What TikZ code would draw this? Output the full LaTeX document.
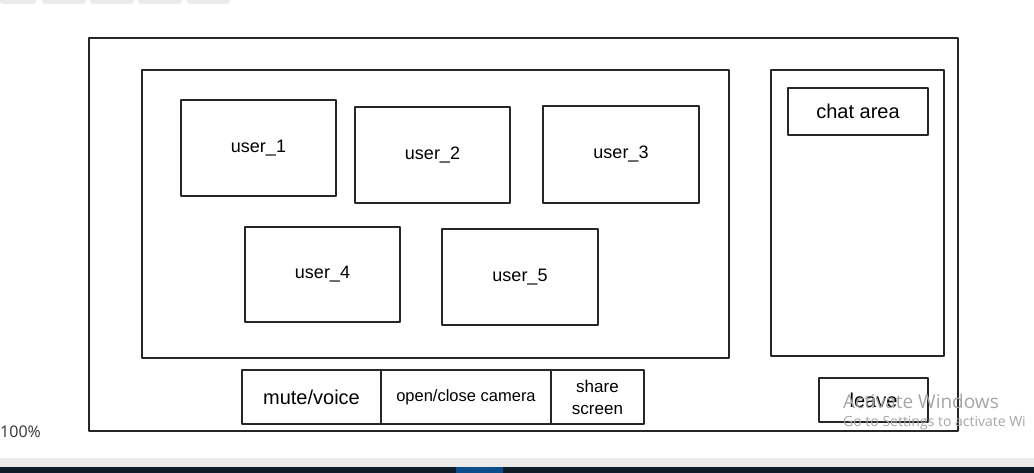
\documentclass[tikz,border=0pt]{standalone}
\usepackage{fontspec}
\setmainfont{Liberation Sans}
\newfontfamily\uifont{Open Sans}
\definecolor{darkbar}{HTML}{0F1C2A}
\definecolor{bluebar}{HTML}{0A4D8A}
\begin{document}
\begin{tikzpicture}[x=1pt,y=-1pt,
  sketch/.style={draw=black!85, line width=1.1pt, line join=round},
  boxnode/.style={sketch, rectangle, inner sep=0pt, font=\fontsize{18}{20}\selectfont},
  tab/.style={fill=black!8, draw=none, rounded corners=3pt},
  wm/.style={text=black!35, font=\uifont\fontsize{19}{21}\selectfont, anchor=west, inner sep=0pt}]
\useasboundingbox (0,0) rectangle (1034,473);
\fill[white] (0,0) rectangle (1034,473);
% top toolbar tabs
\foreach \a/\b [count=\i] in {0/36,42/86,90/134,138/182,187/230}
  \fill[tab] (\a,-6) rectangle (\b,4);
% outer frame
\node[boxnode, minimum width=869pt, minimum height=393pt] (frame) at (523.5,234.5) {};
% video area
\node[boxnode, minimum width=587pt, minimum height=288pt] (video) at (435.5,214) {};
% users
\node[boxnode, minimum width=155pt, minimum height=96pt] (u1) at (258.5,148) {user\_1};
\node[boxnode, minimum width=155pt, minimum height=96pt] (u2) at (432.5,155) {user\_2};
\node[boxnode, minimum width=156pt, minimum height=97pt] (u3) at (621,154.5) {user\_3};
\node[boxnode, minimum width=155pt, minimum height=95pt] (u4) at (322.5,274.5) {user\_4};
\node[boxnode, minimum width=156pt, minimum height=96pt] (u5) at (520,277) {user\_5};
% chat panel
\node[boxnode, minimum width=173pt, minimum height=286pt] (chat) at (857.5,213) {};
\node[boxnode, minimum width=140pt, minimum height=47pt, font=\fontsize{20}{22}\selectfont] (area) at (858,111.5) {chat area};
% control buttons
\node[boxnode, minimum width=139pt, minimum height=54pt, font=\fontsize{20}{22}\selectfont] (mute) at (311.5,397) {mute/voice};
\node[boxnode, minimum width=170pt, minimum height=54pt, font=\fontsize{16.5}{18}\selectfont] (cam) at (466,397) {open/close camera};
\node[boxnode, minimum width=93pt, minimum height=54pt, align=center, font=\fontsize{17}{22}\selectfont] (share) at (597.5,397) {share\\screen};
% leave
\node[boxnode, minimum width=109pt, minimum height=44pt, font=\fontsize{20}{22}\selectfont] (leave) at (873.5,400) {leave};
% zoom indicator
\fill[white, rounded corners=4pt] (-5,405) rectangle (50,455);
\node[anchor=west, inner sep=0pt, font=\uifont\fontsize{16}{18}\selectfont, text=black!80] (zoom) at (0,432) {100\%};
% watermark
\node[wm] (wm1) at (843,401) {Activate Windows};
\node[wm, font=\uifont\fontsize{14}{16}\selectfont] (wm2) at (843,423) {Go to Settings to activate Wi};
% bottom bars
\fill[black!8] (0,458) rectangle (1034,467);
\fill[darkbar] (0,467) rectangle (1034,473);
\fill[bluebar] (456,467) rectangle (503,473);
\end{tikzpicture}
\end{document}
